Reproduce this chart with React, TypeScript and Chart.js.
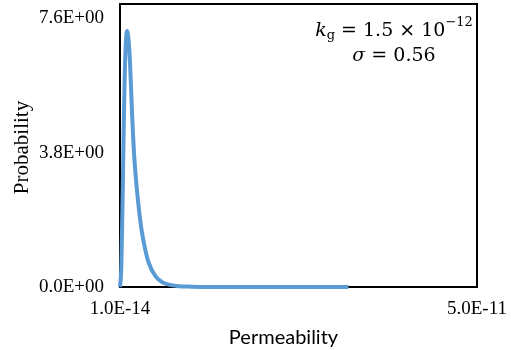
import React, { useEffect, useRef } from "react";
import { Chart, registerables } from "chart.js";

Chart.register(...registerables);

// Permeability values (x) and probability density values (y)
const permeability = [
  1e-14, 0.2e-12, 0.4e-12, 0.6e-12, 0.8e-12, 1.0e-12, 1.2e-12, 1.4e-12, 1.7e-12,
  2.0e-12, 2.5e-12, 3.0e-12, 3.5e-12, 4.0e-12, 5.0e-12, 6.0e-12, 8.0e-12, 10e-12,
  15e-12, 20e-12, 32e-12,
];
const probability = [
  0, 0.6, 2.8, 5.3, 6.8, 7.24, 7.0, 6.4, 4.9, 3.7, 2.5, 1.65, 1.1, 0.7, 0.3, 0.13,
  0.03, 0.01, 0.002, 0, 0,
];
const xTicks = [1e-14, 5e-11];
const yTicks = [0, 3.8, 7.6];
const xTitle = "Permeability";
const yTitle = "Probability";
const paramLine1 = { k: "k", sub: "g", mid: " = 1.5 × 10", sup: "−12" };
const paramLine2 = { sigma: "σ", rest: " = 0.56" };

function sci(v: number): string {
  const [m, e] = Number(v).toExponential(1).split("e");
  const sign = e[0];
  const digits = e.slice(1).padStart(2, "0");
  return m + "E" + sign + digits;
}

const framePlugin = {
  id: "frame",
  beforeDatasetsDraw(chart: any) {
    const { ctx, chartArea } = chart;
    ctx.save();
    ctx.strokeStyle = "#000";
    ctx.lineWidth = 2;
    ctx.strokeRect(chartArea.left, chartArea.top, chartArea.right - chartArea.left, chartArea.bottom - chartArea.top);
    ctx.restore();
  },
};

const textPlugin = {
  id: "texts",
  afterDraw(chart: any) {
    const { ctx, chartArea } = chart;
    ctx.save();
    ctx.fillStyle = "#000";
    // x title
    ctx.font = '20px Lato, "Open Sans", sans-serif';
    ctx.textAlign = "center";
    ctx.textBaseline = "alphabetic";
    ctx.fillText(xTitle, (chartArea.left + chartArea.right) / 2 - 15, 344);
    // y title
    ctx.save();
    ctx.translate(28, (chartArea.top + chartArea.bottom) / 2 + 2);
    ctx.rotate(-Math.PI / 2);
    ctx.font = '21px "Liberation Serif", serif';
    ctx.fillText(yTitle, 0, 0);
    ctx.restore();

    // parameter annotation
    const fam = '"DejaVu Serif", "Liberation Serif", serif';
    const big = 19;
    const small = 13;
    const cx = 394;
    ctx.textAlign = "left";
    // line 1
    ctx.font = `italic ${big}px ${fam}`;
    const wk = ctx.measureText(paramLine1.k).width;
    ctx.font = `${small}px ${fam}`;
    const wsub = ctx.measureText(paramLine1.sub).width;
    ctx.font = `${big}px ${fam}`;
    const wmid = ctx.measureText(paramLine1.mid).width;
    ctx.font = `${small}px ${fam}`;
    const wsup = ctx.measureText(paramLine1.sup).width;
    let x = cx - (wk + wsub + wmid + wsup) / 2;
    const b1 = 36;
    ctx.font = `italic ${big}px ${fam}`;
    ctx.fillText(paramLine1.k, x, b1);
    x += wk;
    ctx.font = `${small}px ${fam}`;
    ctx.fillText(paramLine1.sub, x, b1 + 3);
    x += wsub;
    ctx.font = `${big}px ${fam}`;
    ctx.fillText(paramLine1.mid, x, b1);
    x += wmid;
    ctx.font = `${small}px ${fam}`;
    ctx.fillText(paramLine1.sup, x, b1 - 10);
    // line 2
    ctx.font = `italic ${big}px ${fam}`;
    const ws = ctx.measureText(paramLine2.sigma).width;
    ctx.font = `${big}px ${fam}`;
    const wr = ctx.measureText(paramLine2.rest).width;
    let x2 = cx - (ws + wr) / 2;
    const b2 = 61;
    ctx.font = `italic ${big}px ${fam}`;
    ctx.fillText(paramLine2.sigma, x2, b2);
    x2 += ws;
    ctx.font = `${big}px ${fam}`;
    ctx.fillText(paramLine2.rest, x2, b2);
    ctx.restore();
  },
};

function zeroPad(s: any) {
  s.paddingTop = 0;
  s.paddingBottom = 0;
  s.paddingLeft = 0;
  s.paddingRight = 0;
}

export default function App() {
  const ref = useRef<HTMLCanvasElement>(null);
  useEffect(() => {
    if (!ref.current) return;
    const data = permeability.map((x, i) => ({ x, y: probability[i] }));
    const chart = new Chart(ref.current, {
      type: "line",
      data: {
        datasets: [
          {
            data,
            borderColor: "#5B9BD5",
            borderWidth: 4,
            pointRadius: 0,
            fill: false,
            cubicInterpolationMode: "monotone",
            clip: false as any,
          },
        ],
      },
      options: {
        animation: false,
        responsive: false,
        maintainAspectRatio: false,
        layout: { padding: { left: 0, top: 4, right: 34, bottom: 0 } },
        plugins: { legend: { display: false }, tooltip: { enabled: false } },
        scales: {
          x: {
            type: "linear",
            min: xTicks[0],
            max: xTicks[xTicks.length - 1],
            grid: { display: false, drawTicks: false },
            border: { display: false },
            afterBuildTicks: (s: any) => {
              s.ticks = xTicks.map((value) => ({ value }));
            },
            afterFit: (s: any) => {
              s.height = 63;
              zeroPad(s);
            },
            ticks: {
              autoSkip: false,
              maxRotation: 0,
              padding: 11,
              color: "#000",
              font: { family: '"Liberation Serif", serif', size: 19 },
              callback: (v: any) => sci(v),
            },
          },
          y: {
            type: "linear",
            min: 0,
            max: 8,
            grid: { display: false, drawTicks: false },
            border: { display: false },
            afterBuildTicks: (s: any) => {
              s.ticks = yTicks.map((value) => ({ value }));
            },
            afterFit: (s: any) => {
              s.width = 120;
              zeroPad(s);
            },
            ticks: {
              autoSkip: false,
              padding: 16,
              color: "#000",
              font: { family: '"Liberation Serif", serif', size: 19 },
              callback: (v: any) => sci(v),
            },
          },
        },
      },
      plugins: [framePlugin, textPlugin],
    });
    return () => chart.destroy();
  }, []);
  return (
    <div style={{ position: "fixed", left: 0, top: 0, width: 511, height: 350, background: "#fff" }}>
      <canvas ref={ref} width={511} height={350} style={{ width: 511, height: 350, display: "block" }} />
    </div>
  );
}
